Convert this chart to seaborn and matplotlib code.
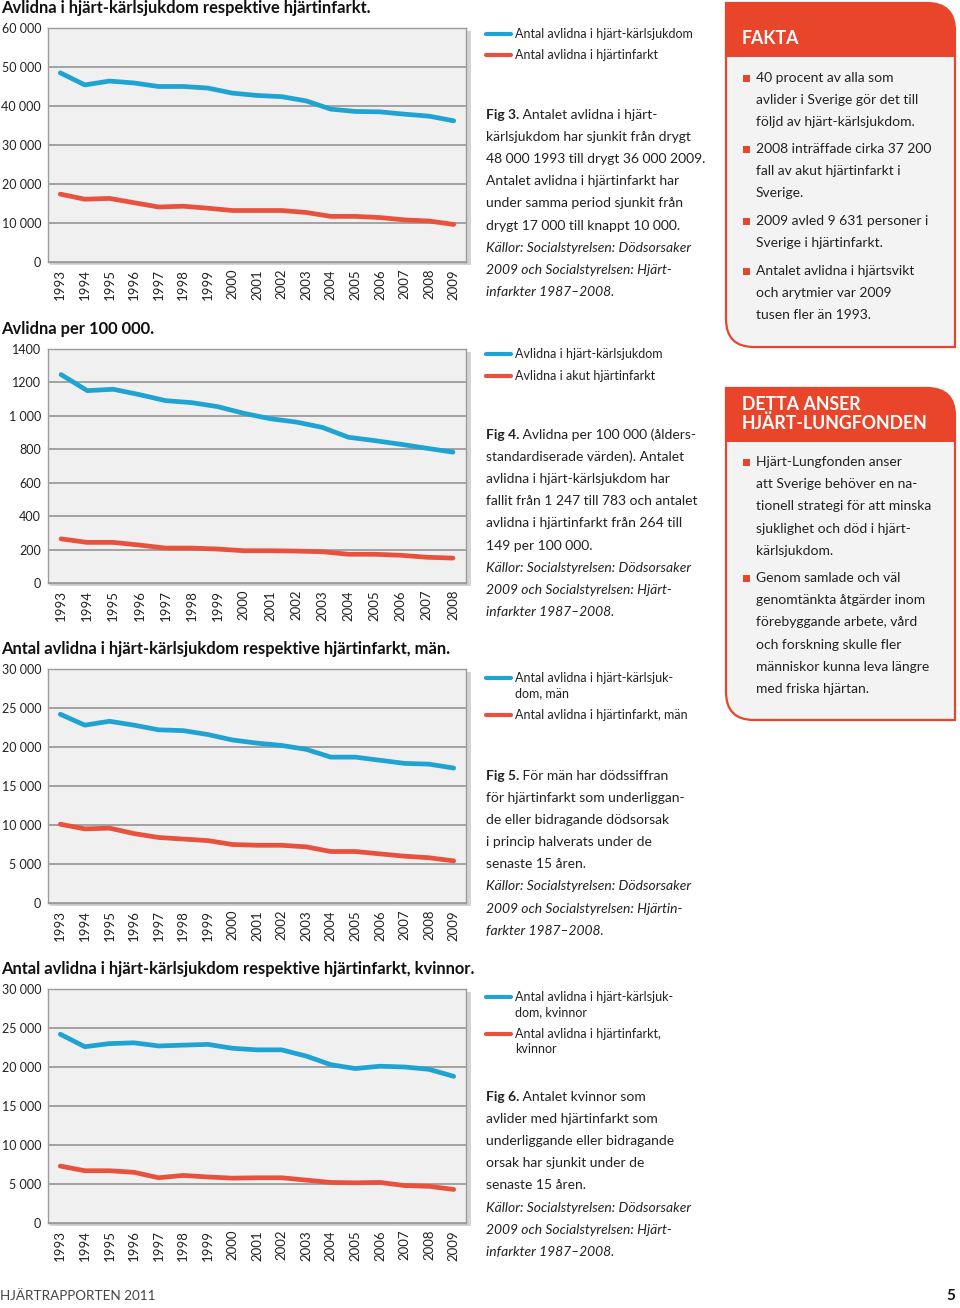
import numpy as np
import pandas as pd
import seaborn as sns
import matplotlib.pyplot as plt
from matplotlib.transforms import Affine2D
from matplotlib.patches import Rectangle, PathPatch
from matplotlib.path import Path
from matplotlib.lines import Line2D

# Data
years_a = list(range(1993, 2010))
years_b = list(range(1993, 2009))

hkl_total = [48500, 45400, 46400, 45900, 45000, 45000, 44600, 43300, 42700,
             42400, 41300, 39200, 38600, 38500, 37900, 37400, 36200]
ami_total = [17400, 16100, 16300, 15200, 14100, 14300, 13800, 13200, 13200,
             13200, 12700, 11700, 11700, 11400, 10800, 10500, 9631]
hkl_rate = [1247, 1151, 1159, 1127, 1091, 1079, 1055, 1015, 983, 963, 931,
            872, 852, 830, 806, 783]
ami_rate = [264, 243, 243, 227, 209, 209, 203, 193, 193, 191, 187, 172, 172,
            166, 154, 149]
hkl_men = [24200, 22800, 23300, 22800, 22200, 22100, 21600, 20900, 20500,
           20200, 19700, 18700, 18700, 18300, 17900, 17800, 17300]
ami_men = [10100, 9500, 9600, 8900, 8400, 8200, 8000, 7500, 7400, 7400, 7200,
           6600, 6600, 6300, 6000, 5800, 5400]
hkl_women = [24200, 22600, 23000, 23100, 22700, 22800, 22900, 22400, 22200,
             22200, 21400, 20300, 19800, 20100, 20000, 19700, 18800]
ami_women = [7300, 6700, 6700, 6500, 5800, 6100, 5900, 5750, 5800, 5800, 5500,
             5200, 5150, 5200, 4800, 4700, 4300]

ticks_count = [0, 10000, 20000, 30000, 40000, 50000, 60000]
ticks_count_lbl = ["0", "10 000", "20 000", "30 000", "40 000", "50 000", "60 000"]
ticks_rate = [0, 200, 400, 600, 800, 1000, 1200, 1400]
ticks_rate_lbl = ["0", "200", "400", "600", "800", "1 000", "1200", "1400"]
ticks_sex = [0, 5000, 10000, 15000, 20000, 25000, 30000]
ticks_sex_lbl = ["0", "5 000", "10 000", "15 000", "20 000", "25 000", "30 000"]

BLUE = "#1ea3d3"
RED = "#e8513b"
BOXRED = "#e9452b"
TXT = "#222222"
BODY = 10.0

sns.set_style("white")
plt.rcParams['font.family'] = ['Lato', 'DejaVu Sans']

W, H = 960, 1308
fig = plt.figure(figsize=(W / 100, H / 100), dpi=100)
px = Affine2D().scale(1 / W, -1 / H).translate(0, 1) + fig.transFigure


def chart(top, title, years, s1, s2, ticks, labels, names):
    # light shadow on the right edge
    fig.add_artist(Rectangle((50, top + 3), 421, 234, transform=px,
                             color="#d4d4d4", lw=0, zorder=0))
    ax = fig.add_axes([48 / W, 1 - (top + 234) / H, 418 / W, 234 / H])
    n = len(years)
    df = pd.DataFrame({"År": years * 2, "Avlidna": s1 + s2,
                       "Serie": [names[0]] * n + [names[1]] * n})
    sns.lineplot(data=df, x="År", y="Avlidna", hue="Serie",
                 palette=[BLUE, RED], lw=3.4, legend=False, ax=ax,
                 solid_capstyle="round", solid_joinstyle="round")
    ax.set_facecolor("#f0f0f0")
    ax.set_xlim(years[0] - 0.5, years[-1] + 0.5)
    ax.set_ylim(ticks[0], ticks[-1])
    ax.set_yticks(ticks)
    ax.set_yticklabels(labels, fontsize=9, color=TXT)
    ax.set_xticks(years)
    ax.set_xticklabels([str(y) for y in years], rotation=90, fontsize=9.5,
                       color=TXT)
    ax.set_xticks(np.arange(n + 1) + years[0] - 0.5, minor=True)
    ax.tick_params(axis="x", which="major", length=0, pad=5)
    ax.tick_params(axis="x", which="minor", length=6, width=1,
                   color="#777777", direction="out")
    ax.tick_params(axis="y", length=0, pad=5)
    ax.yaxis.grid(True, color="#8e8e8e", lw=1.1)
    ax.set_axisbelow(True)
    for sp in ax.spines.values():
        sp.set_color("#9c9c9c")
        sp.set_linewidth(1.0)
    ax.set_xlabel("")
    ax.set_ylabel("")
    fig.text(1, top - 20, title, transform=px, fontsize=11.9,
             fontweight="bold", color="#111111", va="center")
    return ax


chart(28, "Avlidna i hjärt-kärlsjukdom respektive hjärtinfarkt.", years_a,
      hkl_total, ami_total, ticks_count, ticks_count_lbl,
      ["Antal avlidna i hjärt-kärlsjukdom", "Antal avlidna i hjärtinfarkt"])
chart(349, "Avlidna per 100 000.", years_b, hkl_rate, ami_rate, ticks_rate,
      ticks_rate_lbl,
      ["Avlidna i hjärt-kärlsjukdom", "Avlidna i akut hjärtinfarkt"])
chart(669, "Antal avlidna i hjärt-kärlsjukdom respektive hjärtinfarkt, män.",
      years_a, hkl_men, ami_men, ticks_sex, ticks_sex_lbl,
      ["Antal avlidna i hjärt-kärlsjukdom, män", "Antal avlidna i hjärtinfarkt, män"])
chart(989, "Antal avlidna i hjärt-kärlsjukdom respektive hjärtinfarkt, kvinnor.",
      years_a, hkl_women, ami_women, ticks_sex, ticks_sex_lbl,
      ["Antal avlidna i hjärt-kärlsjukdom, kvinnor", "Antal avlidna i hjärtinfarkt, kvinnor"])


def legend(entries):
    for y, color, lines in entries:
        fig.add_artist(Line2D([486, 511], [y, y], color=color, lw=3,
                              transform=px))
        for i, t in enumerate(lines):
            fig.text(515, y + i * 15, t, transform=px, fontsize=9,
                     color=TXT, va="center")


legend([(34, BLUE, ["Antal avlidna i hjärt-kärlsjukdom"]),
        (55, RED, ["Antal avlidna i hjärtinfarkt"])])
legend([(354, BLUE, ["Avlidna i hjärt-kärlsjukdom"]),
        (376, RED, ["Avlidna i akut hjärtinfarkt"])])
legend([(678, BLUE, ["Antal avlidna i hjärt-kärlsjuk-", "dom, män"]),
        (715, RED, ["Antal avlidna i hjärtinfarkt, män"])])
legend([(997, BLUE, ["Antal avlidna i hjärt-kärlsjuk-", "dom, kvinnor"]),
        (1034, RED, ["Antal avlidna i hjärtinfarkt,", "kvinnor"])])

renderer = fig.canvas.get_renderer()


def caption(y0, label, lines, n_plain, step=22.1):
    for i, t in enumerate(lines):
        y = y0 + i * step
        x = 486
        if i == 0:
            lab = fig.text(x, y, label, transform=px, fontsize=BODY,
                           fontweight="bold", color=TXT, va="center")
            bb = lab.get_window_extent(renderer)
            x = x + bb.width * W / fig.bbox.width
        fig.text(x, y, t, transform=px, fontsize=BODY, color=TXT,
                 va="center", style="normal" if i < n_plain else "italic")


src = ["Källor: Socialstyrelsen: Dödsorsaker",
       "2009 och Socialstyrelsen: Hjärt-",
       "infarkter 1987–2008."]

caption(115, "Fig 3.", [" Antalet avlidna i hjärt-",
                        "kärlsjukdom har sjunkit från drygt",
                        "48 000 1993 till drygt 36 000 2009.",
                        "Antalet avlidna i hjärtinfarkt har",
                        "under samma period sjunkit från",
                        "drygt 17 000 till knappt 10 000."] + src, 6)
caption(435, "Fig 4.", [" Avlidna per 100 000 (ålders-",
                        "standardiserade värden). Antalet",
                        "avlidna i hjärt-kärlsjukdom har",
                        "fallit från 1 247 till 783 och antalet",
                        "avlidna i hjärtinfarkt från 264 till",
                        "149 per 100 000."] + src, 6)
caption(776, "Fig 5.", [" För män har dödssiffran",
                        "för hjärtinfarkt som underliggan-",
                        "de eller bidragande dödsorsak",
                        "i princip halverats under de",
                        "senaste 15 åren.",
                        "Källor: Socialstyrelsen: Dödsorsaker",
                        "2009 och Socialstyrelsen: Hjärtin-",
                        "farkter 1987–2008."], 5)
caption(1097, "Fig 6.", [" Antalet kvinnor som",
                         "avlider med hjärtinfarkt som",
                         "underliggande eller bidragande",
                         "orsak har sjunkit under de",
                         "senaste 15 åren."] + src, 5)


def box(x0, y0, x1, y1, hy, header, bullets, r=28):
    outline = Path([(x0, y0), (x1 - r, y0), (x1, y0), (x1, y0 + r),
                    (x1, y1), (x0 + r, y1), (x0, y1), (x0, y1 - r),
                    (x0, y0)],
                   [Path.MOVETO, Path.LINETO, Path.CURVE3, Path.CURVE3,
                    Path.LINETO, Path.LINETO, Path.CURVE3, Path.CURVE3,
                    Path.CLOSEPOLY])
    head = Path([(x0, y0), (x1 - r, y0), (x1, y0), (x1, y0 + r),
                 (x1, hy), (x0, hy), (x0, y0)],
                [Path.MOVETO, Path.LINETO, Path.CURVE3, Path.CURVE3,
                 Path.LINETO, Path.LINETO, Path.CLOSEPOLY])
    fig.add_artist(PathPatch(outline, transform=px, facecolor="#f3f3f3",
                             edgecolor="none"))
    fig.add_artist(PathPatch(head, transform=px, facecolor=BOXRED,
                             edgecolor="none"))
    fig.add_artist(PathPatch(outline, transform=px, facecolor="none",
                             edgecolor=BOXRED, lw=1.6))
    for i, t in enumerate(header[1]):
        fig.text(742, header[0] + i * 18, t, transform=px, fontsize=12.8,
                 fontweight="bold", color="white", va="center")
    for y, lines in bullets:
        fig.add_artist(Rectangle((743, y - 3.5), 7, 7, transform=px,
                                 color=BOXRED, lw=0))
        for i, t in enumerate(lines):
            fig.text(756, y + i * 22.2, t, transform=px, fontsize=BODY,
                     color=TXT, va="center")


box(726, 3, 955, 347, 57, (39, ["FAKTA"]),
    [(78, ["40 procent av alla som", "avlider i Sverige gör det till",
           "följd av hjärt-kärlsjukdom."]),
     (149, ["2008 inträffade cirka 37 200", "fall av akut hjärtinfarkt i",
            "Sverige."]),
     (221, ["2009 avled 9 631 personer i", "Sverige i hjärtinfarkt."]),
     (271, ["Antalet avlidna i hjärtsvikt", "och arytmier var 2009",
            "tusen fler än 1993."])])

box(726, 388, 955, 720, 442, (405, ["DETTA ANSER", "HJÄRT-LUNGFONDEN"]),
    [(462, ["Hjärt-Lungfonden anser", "att Sverige behöver en na-",
            "tionell strategi för att minska", "sjuklighet och död i hjärt-",
            "kärlsjukdom."]),
     (578, ["Genom samlade och väl", "genomtänkta åtgärder inom",
            "förebyggande arbete, vård", "och forskning skulle fler",
            "människor kunna leva längre", "med friska hjärtan."])])

fig.text(0, 1296, "HJÄRTRAPPORTEN 2011", transform=px, fontsize=9.7,
         color="#444444", va="center")
fig.text(955, 1296, "5", transform=px, fontsize=11, fontweight="bold",
         color="#111111", va="center", ha="right")

fig.savefig("out.png", dpi=100)
